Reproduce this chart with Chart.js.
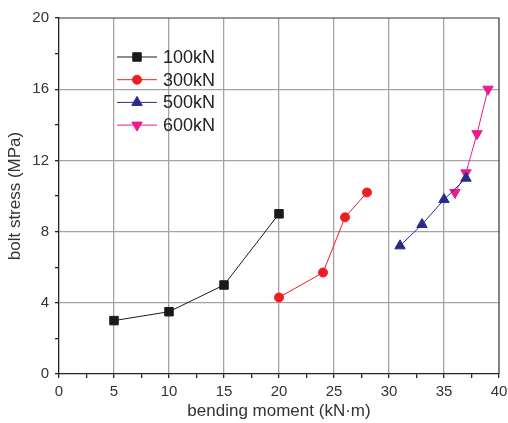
<!DOCTYPE html>
<html>
<head>
<meta charset="utf-8">
<script src="https://cdn.jsdelivr.net/npm/chart.js@4"></script>
<style>
  body { margin: 0; background: #fff; }
  #wrap { width: 508px; height: 423px; }
</style>
</head>
<body>
<div id="wrap"><canvas id="myChart"></canvas></div>
<script>
// data
const seriesNames = ['100kN', '300kN', '500kN', '600kN']
const x100 = [5, 10, 15, 20]
const y100 = [3.0, 3.5, 5.0, 9.0]
const x300 = [20, 24, 26, 28]
const y300 = [4.3, 5.7, 8.8, 10.2]
const x500 = [31, 33, 35, 37]
const y500 = [7.2, 8.4, 9.8, 11.0]
const x600 = [36, 37, 38, 39]
const y600 = [10.2, 11.3, 13.5, 16.0]

const colors = ['#1a1a1a', '#f01c24', '#2a2a8c', '#ec1c8c']
const shapes = ['rect', 'circle', 'triangle', 'triangle']
const rotations = [0, 0, 0, 180]
const radii = [6, 4.5, 6, 6]
const fontFam = '"Liberation Sans", Arial, sans-serif'

function toPoints(xs, ys) {
    return xs.map((x, i) => ({ x: x, y: ys[i] }))
}
const allX = [x100, x300, x500, x600]
const allY = [y100, y300, y500, y600]

const datasets = seriesNames.map((name, i) => ({
    label: name,
    data: toPoints(allX[i], allY[i]),
    borderColor: colors[i],
    backgroundColor: colors[i],
    borderWidth: 1,
    pointStyle: shapes[i],
    pointRotation: rotations[i],
    pointRadius: radii[i],
    pointBorderWidth: 1,
    showLine: true
}))

// frame + legend inside the plot
const boxPlugin = {
    id: 'box',
    afterDraw(chart) {
        const { ctx, chartArea: a } = chart
        ctx.save()
        ctx.strokeStyle = '#333'
        ctx.lineWidth = 1.2
        ctx.beginPath()
        ctx.moveTo(a.left, a.top)
        ctx.lineTo(a.right, a.top)
        ctx.lineTo(a.right, a.bottom)
        ctx.stroke()

        ctx.font = '18px ' + fontFam
        ctx.textBaseline = 'middle'
        chart.data.datasets.forEach((ds, i) => {
            const y = 57 + i * 22.7
            const x0 = 117, x1 = 157
            ctx.strokeStyle = ds.borderColor
            ctx.fillStyle = ds.backgroundColor
            ctx.lineWidth = 1
            ctx.beginPath()
            ctx.moveTo(x0, y)
            ctx.lineTo(x1, y)
            ctx.stroke()
            Chart.helpers.drawPoint(ctx, {
                pointStyle: ds.pointStyle,
                rotation: ds.pointRotation,
                radius: ds.pointRadius,
                borderWidth: 1
            }, (x0 + x1) / 2, y)
            ctx.fillStyle = '#222'
            ctx.fillText(ds.label, 163, y + 1)
        })
        ctx.restore()
    }
}

const ctx = document.getElementById('myChart')
new Chart(ctx, {
    type: 'scatter',
    data: { datasets: datasets },
    options: {
        responsive: true,
        maintainAspectRatio: false,
        animation: false,
        layout: { padding: { top: 18, right: 9, left: 0, bottom: 0 } },
        plugins: { legend: { display: false }, tooltip: { enabled: false } },
        scales: {
            x: {
                type: 'linear',
                min: 0,
                max: 40,
                afterFit: (s) => {
                    s.height = 49
                    s.paddingLeft = 0
                    s.paddingRight = 0
                },
                ticks: {
                    stepSize: 2.5,
                    autoSkip: false,
                    maxRotation: 0,
                    color: '#333',
                    font: { size: 15, family: fontFam },
                    padding: 5,
                    callback: (v) => (v % 5 === 0 ? v : '')
                },
                grid: {
                    color: (c) => (c.tick && c.tick.value % 5 === 0 && c.tick.value > 0 && c.tick.value < 40 ? '#a4a4a4' : 'rgba(0,0,0,0)'),
                    lineWidth: 1.3,
                    tickColor: '#222',
                    tickLength: 4,
                    drawTicks: true
                },
                border: { color: '#222', width: 1.3 },
                title: {
                    display: true,
                    text: 'bending moment (kN·m)',
                    color: '#333',
                    font: { size: 17, family: fontFam },
                    padding: { top: 0, bottom: 1 }
                }
            },
            y: {
                type: 'linear',
                min: 0,
                max: 20,
                afterFit: (s) => {
                    s.width = 59
                    s.paddingTop = 0
                    s.paddingBottom = 0
                },
                ticks: {
                    stepSize: 2,
                    autoSkip: false,
                    color: '#333',
                    font: { size: 15, family: fontFam },
                    padding: 6,
                    callback: (v) => (v % 4 === 0 ? v : '')
                },
                grid: {
                    color: (c) => (c.tick && c.tick.value % 4 === 0 && c.tick.value > 0 && c.tick.value < 20 ? '#a4a4a4' : 'rgba(0,0,0,0)'),
                    lineWidth: 1.3,
                    tickColor: '#222',
                    tickLength: 4
                },
                border: { color: '#222', width: 1.3 },
                title: {
                    display: true,
                    text: 'bolt stress (MPa)',
                    color: '#333',
                    font: { size: 17, family: fontFam },
                    padding: { top: 5, bottom: 0 }
                }
            }
        }
    },
    plugins: [boxPlugin]
})
</script>
</body>
</html>
